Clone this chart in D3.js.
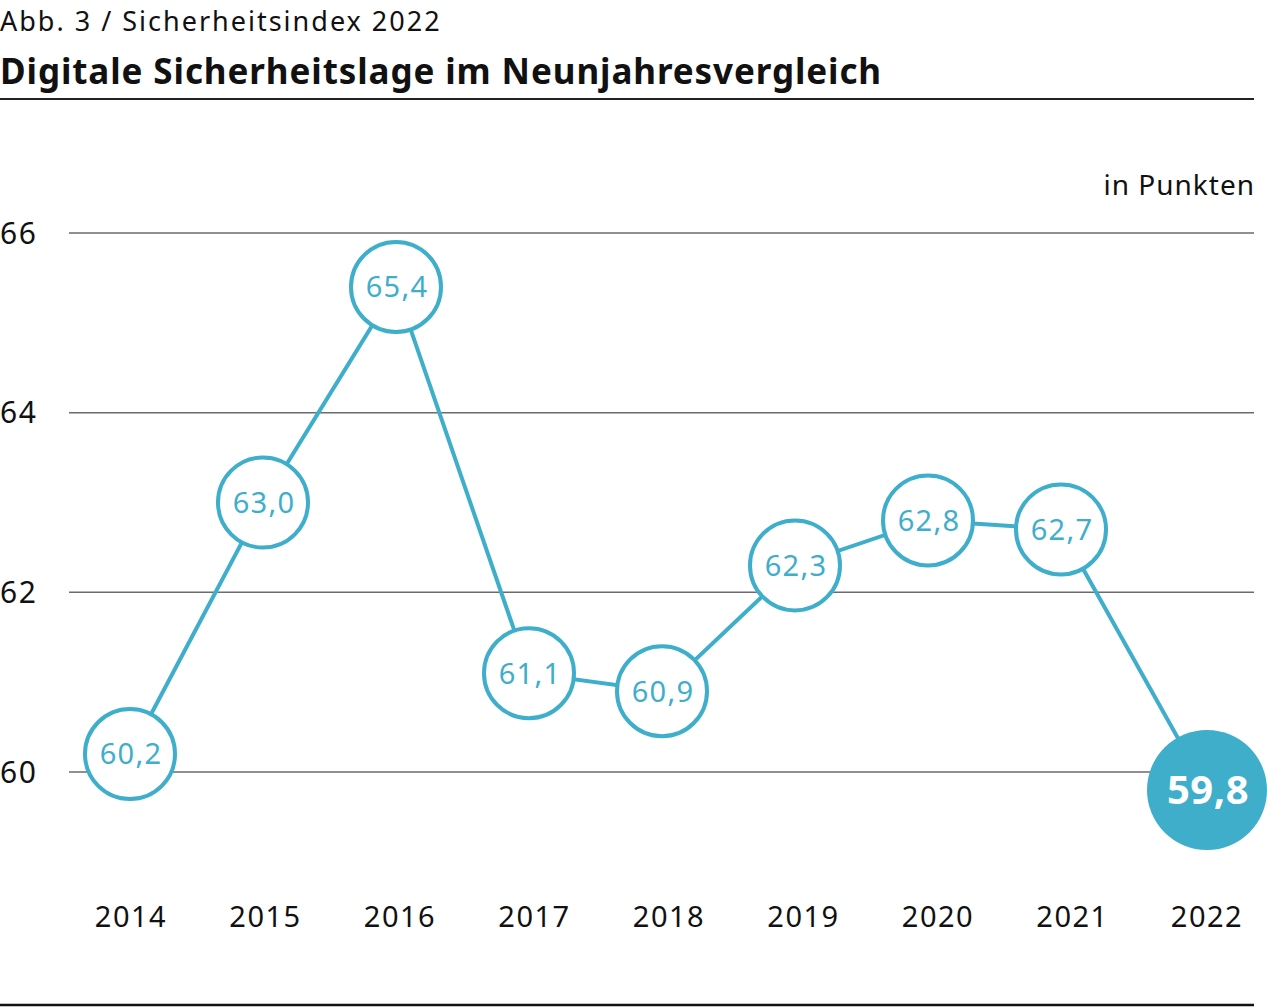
<!DOCTYPE html>
<html>
<head>
<meta charset="utf-8">
<script src="https://cdn.jsdelivr.net/npm/d3@7"></script>
<style>
  body { margin: 0; background: #fff; }
  svg { display: block; font-family: 'Noto Sans', sans-serif; }
</style>
</head>
<body>
<script>
var years = ['2014', '2015', '2016', '2017', '2018', '2019', '2020', '2021', '2022']
var values = [60.2, 63.0, 65.4, 61.1, 60.9, 62.3, 62.8, 62.7, 59.8]
var yTicks = [60, 62, 64, 66]

var width = 1267
var height = 1007
var blue = '#3eaecb'

var svg = d3.select('body').append('svg')
  .attr('width', width)
  .attr('height', height)

// header
svg.append('text')
  .attr('x', 0)
  .attr('y', 31)
  .style('font-size', '27px')
  .style('letter-spacing', '2px')
  .style('fill', '#111')
  .text('Abb. 3 / Sicherheitsindex 2022')

svg.append('text')
  .attr('x', 0)
  .attr('y', 84)
  .style('font-size', '35px')
  .style('font-weight', '700')
  .style('letter-spacing', '0.9px')
  .style('fill', '#111')
  .text('Digitale Sicherheitslage im Neunjahresvergleich')

svg.append('line')
  .attr('x1', 0).attr('x2', 1254)
  .attr('y1', 99).attr('y2', 99)
  .style('stroke', '#222')
  .style('stroke-width', 2)

svg.append('line')
  .attr('x1', 0).attr('x2', 1254)
  .attr('y1', 1005).attr('y2', 1005)
  .style('stroke', '#111')
  .style('stroke-width', 2.5)

svg.append('text')
  .attr('x', 1255)
  .attr('y', 195)
  .attr('text-anchor', 'end')
  .style('font-size', '28px')
  .style('letter-spacing', '1px')
  .style('fill', '#111')
  .text('in Punkten')

var y = d3.scaleLinear().domain([60, 66]).range([772, 233])
var xLabel = d3.scalePoint().domain(years).range([130, 1206])
// circles are spaced a little tighter; the highlighted last one sits further right
var xDot = d3.scalePoint().domain(years).range([130, 1194])

var rSmall = 45
var rBig = 60
var last = years[years.length - 1]

function dotX (yr) {
  return yr === last ? xDot(yr) + (rBig - rSmall) - 2 : xDot(yr)
}

// grid
var grid = svg.append('g')
grid.selectAll('line')
  .data(yTicks)
  .enter().append('line')
  .attr('x1', 69).attr('x2', 1254)
  .attr('y1', function (d) { return y(d) })
  .attr('y2', function (d) { return y(d) })
  .style('stroke', '#6b6b6b')
  .style('stroke-width', 1.5)

grid.selectAll('text')
  .data(yTicks)
  .enter().append('text')
  .attr('x', 0)
  .attr('y', function (d) { return y(d) })
  .attr('dy', '0.36em')
  .style('font-size', '30px')
  .style('letter-spacing', '1.5px')
  .style('fill', '#111')
  .text(function (d) { return d })

// x labels
svg.append('g').selectAll('text')
  .data(years)
  .enter().append('text')
  .attr('x', function (d) { return xLabel(d) + 1 })
  .attr('y', 927)
  .attr('text-anchor', 'middle')
  .style('font-size', '29px')
  .style('letter-spacing', '1.5px')
  .style('fill', '#111')
  .text(function (d) { return d })

var points = years.map(function (yr, i) { return { year: yr, value: values[i] } })

var line = d3.line()
  .x(function (d) { return dotX(d.year) })
  .y(function (d) { return y(d.value) })

svg.append('path')
  .datum(points)
  .attr('d', line)
  .style('fill', 'none')
  .style('stroke', blue)
  .style('stroke-width', 4)

var fmt = function (v) { return d3.format('.1f')(v).replace('.', ',') }

var dots = svg.append('g').selectAll('g')
  .data(points)
  .enter().append('g')
  .attr('transform', function (d) {
    return 'translate(' + dotX(d.year) + ',' + y(d.value) + ')'
  })

dots.append('circle')
  .attr('r', function (d) { return d.year === last ? rBig : rSmall })
  .style('fill', function (d) { return d.year === last ? blue : '#fff' })
  .style('stroke', blue)
  .style('stroke-width', function (d) { return d.year === last ? 0 : 4 })

dots.append('text')
  .attr('text-anchor', 'middle')
  .attr('x', 1)
  .attr('dy', '0.36em')
  .style('font-size', function (d) { return d.year === last ? '40px' : '29px' })
  .style('font-weight', function (d) { return d.year === last ? '700' : '400' })
  .style('letter-spacing', function (d) { return d.year === last ? '0.5px' : '1.2px' })
  .style('fill', function (d) { return d.year === last ? '#fff' : blue })
  .text(function (d) { return fmt(d.value) })
</script>
</body>
</html>
